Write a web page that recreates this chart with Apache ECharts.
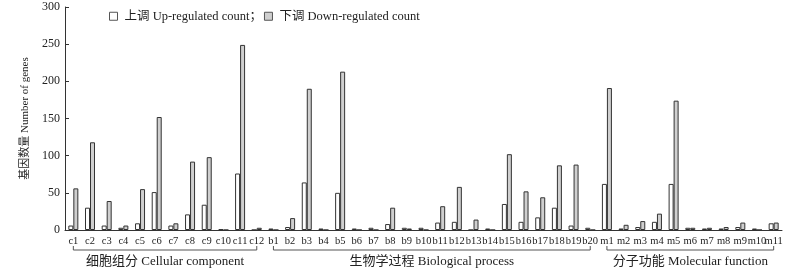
<!DOCTYPE html>
<html><head><meta charset="utf-8">
<script src="https://cdn.jsdelivr.net/npm/echarts@6/dist/echarts.min.js"></script>
<style>html,body{margin:0;padding:0;background:#fff}#c{width:787px;height:275px}</style>
</head><body><div id="c"></div>
<script>
var categories = ['c1','c2','c3','c4','c5','c6','c7','c8','c9','c10','c11','c12',
  'b1','b2','b3','b4','b5','b6','b7','b8','b9','b10','b11','b12','b13','b14','b15','b16','b17','b18','b19','b20',
  'm1','m2','m3','m4','m5','m6','m7','m8','m9','m10','m11'];
var upCounts = [6,30,6,3,9,51,6,21,34,1,76,0,
  2,4,64,2,50,2,3,8,3,3,10,11,0,2,35,11,17,30,6,3,
  62,2,4,11,62,3,2,2,4,2,9];
var downCounts = [56,118,39,6,55,152,9,92,98,0,249,3,
  0,16,190,0,213,0,0,30,2,0,32,58,14,0,102,52,44,87,88,0,
  191,7,12,22,174,3,3,4,10,0,10];
var groups = [
  {name:'细胞组分 Cellular component', from:'c1', to:'c12'},
  {name:'生物学过程 Biological process', from:'b1', to:'b20'},
  {name:'分子功能 Molecular function', from:'m1', to:'m11'}
];
var yTicks = [0,50,100,150,200,250,300];
var upName = '上调 Up-regulated count；';
var downName = '下调 Down-regulated count';

var FONT = "'Liberation Serif','Noto Sans CJK SC',serif";
var chart = echarts.init(document.getElementById('c'), null, {renderer:'canvas'});
var option = {
  animation:false,
  textStyle:{fontFamily:FONT, color:'#222'},
  legend:{
    left:104, top:5, itemWidth:8, itemHeight:8, itemGap:2,
    textStyle:{fontFamily:FONT, fontSize:12.5, color:'#222', padding:[0,0,0,2]},
    data:[{name:upName, icon:'rect', itemStyle:{borderColor:'#555', borderWidth:1}},
          {name:downName, icon:'rect', itemStyle:{borderColor:'#555', borderWidth:1}}]
  },
  grid:{left:65, right:5, top:7, bottom:45},
  xAxis:{
    type:'category', data:categories,
    axisLine:{lineStyle:{color:'#333', width:1}},
    axisTick:{inside:true, length:3, lineStyle:{color:'#333'}},
    axisLabel:{fontFamily:FONT, fontSize:10.5, color:'#222', margin:6, interval:0}
  },
  yAxis:{
    type:'value', min:yTicks[0], max:yTicks[yTicks.length-1], interval:50,
    name:'基因数量 Number of genes', nameLocation:'middle', nameGap:31,
    nameTextStyle:{fontFamily:FONT, fontSize:11, color:'#222'},
    axisLine:{show:true, lineStyle:{color:'#333'}},
    axisTick:{show:true, inside:true, length:4, lineStyle:{color:'#333'}},
    axisLabel:{fontFamily:FONT, fontSize:12, color:'#222', margin:5},
    splitLine:{show:false}
  },
  series:[
    {name:upName, type:'bar', data:upCounts, barWidth:5, barGap:'0%',
     itemStyle:{color:'#ffffff', borderColor:'#333', borderWidth:1}},
    {name:downName, type:'bar', data:downCounts, barWidth:5, barGap:'0%',
     itemStyle:{color:'#cfcfcf', borderColor:'#333', borderWidth:1}}
  ]
};
chart.setOption(option);

var gfx = [];
var baseY = chart.convertToPixel({yAxisIndex:0}, 0);
var lineY = baseY + 20;
groups.forEach(function(g){
  var x1 = chart.convertToPixel({xAxisIndex:0}, g.from);
  var x2 = chart.convertToPixel({xAxisIndex:0}, g.to);
  gfx.push({type:'polyline', shape:{points:[[x1,lineY-4],[x1,lineY],[x2,lineY],[x2,lineY-4]]},
    style:{stroke:'#555', lineWidth:1, fill:null}, silent:true});
  gfx.push({type:'text', x:(x1+x2)/2, y:lineY+12,
    style:{text:g.name, font:'13px '+FONT, fill:'#222', textAlign:'center', textVerticalAlign:'middle'}, silent:true});
});
chart.setOption({graphic:gfx});
</script></body></html>
